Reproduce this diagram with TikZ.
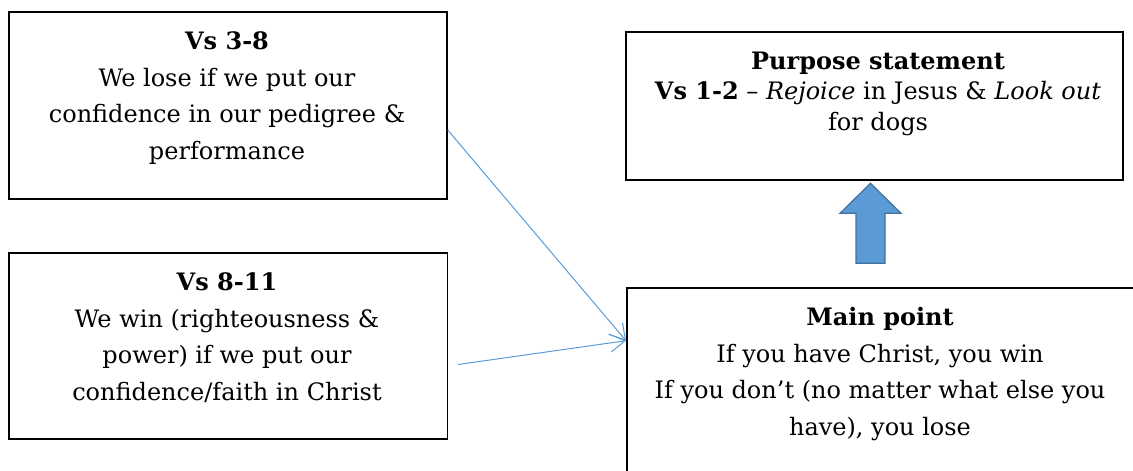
\documentclass[tikz,border=0pt]{standalone}
\usepackage{fontspec}
\setmainfont{DejaVu Serif}
\usetikzlibrary{arrows.meta,calc}
\definecolor{ablue}{HTML}{5B9BD5}
\definecolor{aborder}{HTML}{41719C}
\begin{document}
\begin{tikzpicture}[x=1pt,y=-1pt,
  frame/.style={draw=black,line width=1.8pt,inner sep=0pt,anchor=north west},
  txt/.style={align=center,inner sep=0pt,anchor=north,font=\fontsize{24}{36.5}\selectfont},
  link/.style={draw=ablue,line width=1pt,-{Straight Barb[length=15pt,width=18pt]}},
  blockarrow/.style={fill=ablue,draw=aborder,line width=1.2pt}]
\useasboundingbox (0,0) rectangle (1133,471);
\node[frame,minimum width=438pt,minimum height=187pt] (b1) at (8,10.7) {};
\node[frame,minimum width=438.5pt,minimum height=186.3pt] (b2) at (8,251.7) {};
\node[frame,minimum width=497pt,minimum height=148.6pt] (p) at (625,30.7) {};
\begin{scope}
\clip (0,0) rectangle (1133,471);
\node[frame,minimum width=520pt,minimum height=195pt] (m) at (626,286.7) {};
\end{scope}
\node[txt] (t1) at (227,31.5) {\textbf{Vs 3-8}\\We lose if we put our\\confidence in our pedigree \&\\performance};
\node[txt] (t2) at (227,272.5) {\textbf{Vs 8-11}\\We win (righteousness \&\\power) if we put our\\confidence/faith in Christ};
\node[txt,font=\fontsize{24}{30.5}\selectfont] (t3) at (878,51.5) {\textbf{Purpose statement}\\\textbf{Vs 1-2} – \textit{Rejoice} in Jesus \& \textit{Look out}\\for dogs};
\node[txt] (t4) at (880,307.5) {\textbf{Main point}\\If you have Christ, you win\\If you don’t (no matter what else you\\have), you lose};
\coordinate (s2) at (458,364.5);
\coordinate (e) at ($(m.north west)+(0,54)$);
\draw[link] ([yshift=-25pt]b1.east) -- (e);
\draw[link] (s2) -- (e);
\draw[blockarrow] (856,263.3) -- (856,213.3) -- (840,213.3) -- (870.5,183.3) -- (901,213.3) -- (885,213.3) -- (885,263.3) -- cycle;
\end{tikzpicture}
\end{document}
